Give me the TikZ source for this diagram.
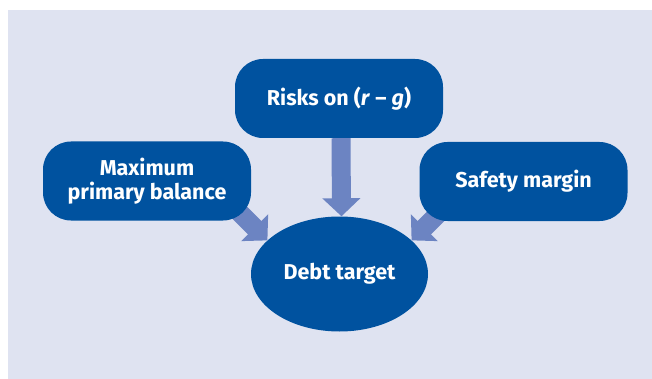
\documentclass[tikz,border=0pt]{standalone}
\usepackage{fontspec}
\setmainfont{Fira Sans}
\usetikzlibrary{shapes.geometric, positioning, arrows.meta, calc}

\definecolor{panelbg}{HTML}{DFE3F1}
\definecolor{boxblue}{HTML}{00529F}
\definecolor{arrowblue}{HTML}{6C84C2}

\tikzset{
    factorbox/.style={draw=none, fill=boxblue, rounded corners=28pt, minimum width=208pt,
        minimum height=79pt, inner sep=0pt, text=white, align=center,
        font=\fontsize{21.5}{24}\selectfont\bfseries},
    targetbox/.style={ellipse, draw=none, fill=boxblue, minimum width=177pt,
        minimum height=115pt, inner sep=0pt, text=white,
        font=\fontsize{21.5}{24}\selectfont\bfseries},
    fatarrow/.style={draw=arrowblue, line width=19pt, -{Triangle[width=37pt,length=18pt]}}
}

\begin{document}
\begin{tikzpicture}[x=1pt, y=-1pt]
        % Panel
        \useasboundingbox (0,0) rectangle (652,379);
        \fill[panelbg] (8,10) rectangle (652,379);

        % Target
        \node[targetbox] (target) at (339.5,274) {Debt target};

        % Arrows (drawn first, the boxes hide their tails)
        \coordinate (ltip) at (target.155);
        \coordinate (rtip) at (target.25);
        \draw[fatarrow] ($(ltip)+(-40,-40)$) -- (ltip);
        \draw[fatarrow] ($(rtip)+(40,-40)$) -- (rtip);

        % Factors
        \node[factorbox] (risks) at (339,98.5) {Risks on (\textit{r} – \textit{g})};
        \node[factorbox] (primary) at (147,181) {Maximum\\primary balance};
        \node[factorbox] (safety) at (523.5,181.5) {Safety margin};

        \draw[fatarrow] ([xshift=2pt]risks.south) -- ([xshift=2pt]target.north);
    \end{tikzpicture}
\end{document}
